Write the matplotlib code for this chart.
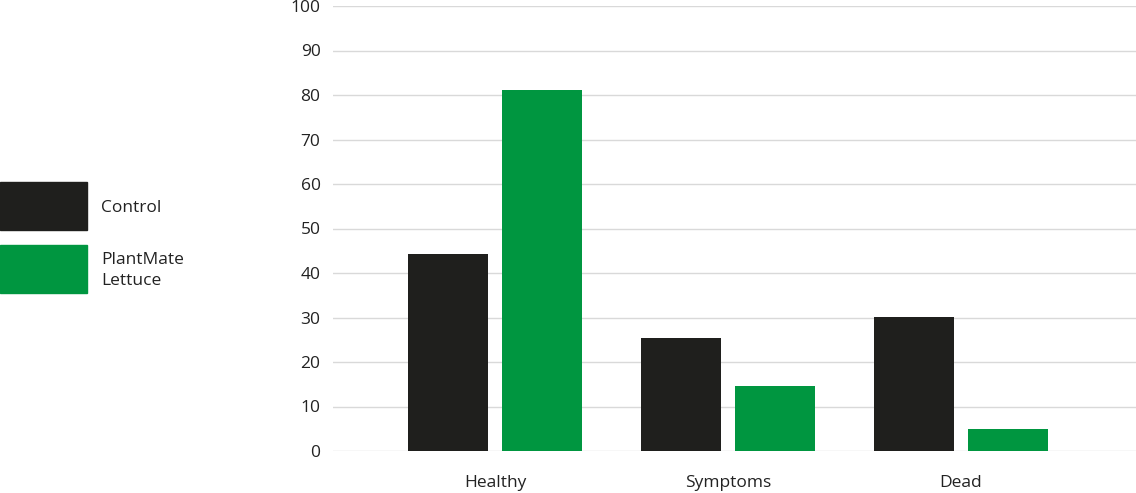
import numpy as np
import matplotlib
matplotlib.use("Agg")
import matplotlib.pyplot as plt
from matplotlib.patches import Rectangle

# data
categories = ["Healthy", "Symptoms", "Dead"]
control = [44.3, 25.4, 30.2]
plantmate = [81.2, 14.6, 4.9]
series_names = ["Control", "PlantMate\nLettuce"]
yticks = [0, 10, 20, 30, 40, 50, 60, 70, 80, 90, 100]

BLACK = "#1f1f1d"
GREEN = "#009640"
GRID = "#d9d9d9"
TXT = "#222222"
FS = 12.5

plt.rcParams["font.family"] = ["Open Sans", "DejaVu Sans"]

fig = plt.figure(figsize=(11.36, 4.93), dpi=100)
ax = fig.add_axes([333 / 1136, 1 - 451 / 493, 1 - 333 / 1136, (451 - 6) / 493])

x = np.arange(len(categories))
w = 0.343
off = 0.2017
ax.bar(x - off, control, width=w, color=BLACK, zorder=3)
ax.bar(x + off, plantmate, width=w, color=GREEN, zorder=3)

ax.set_xlim(-0.695, 2.751)
ax.set_ylim(0, 100)
ax.set_yticks(yticks)
ax.set_xticks(x)
ax.set_xticklabels(categories)
ax.yaxis.grid(True, color=GRID, linewidth=1, zorder=0)
ax.set_axisbelow(True)
for s in ax.spines.values():
    s.set_visible(False)
ax.tick_params(axis="both", length=0, labelsize=FS, colors=TXT)
ax.tick_params(axis="y", pad=9)
ax.tick_params(axis="x", pad=17.5)

# legend drawn on the left
W, H = 1136, 493
for i, col in enumerate([BLACK, GREEN]):
    top = 182 + i * 63
    fig.patches.append(Rectangle((0, 1 - (top + 48) / H), 87 / W, 48 / H,
                                 transform=fig.transFigure, color=col))
fig.text(101 / W, 1 - 207.5 / H, series_names[0], fontsize=FS, color=TXT,
         va="center", ha="left")
fig.text(101 / W, 1 - 270.5 / H, series_names[1], fontsize=FS, color=TXT,
         va="center", ha="left", linespacing=1.42)

fig.savefig("out.png", dpi=100)
